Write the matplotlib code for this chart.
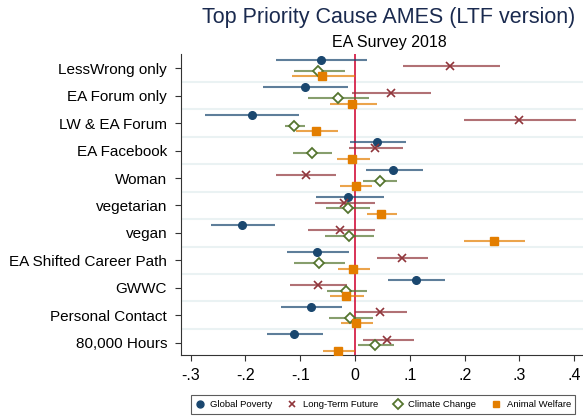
import numpy as np
import matplotlib
matplotlib.use("Agg")
import matplotlib.pyplot as plt
from matplotlib.lines import Line2D

plt.rcParams["font.family"] = ["Liberation Sans", "DejaVu Sans"]

categories = ["LessWrong only", "EA Forum only", "LW & EA Forum", "EA Facebook", "Woman",
              "vegetarian", "vegan", "EA Shifted Career Path", "GWWC", "Personal Contact",
              "80,000 Hours"]

# point estimate, lower CI, upper CI
gp = [-0.062, -0.092, -0.189, 0.040, 0.070, -0.012, -0.206, -0.070, 0.111, -0.081, -0.111]
gp_lo = [-0.145, -0.168, -0.274, -0.009, 0.020, -0.072, -0.263, -0.125, 0.060, -0.136, -0.161]
gp_hi = [0.022, -0.012, -0.102, 0.093, 0.124, 0.053, -0.146, -0.011, 0.165, -0.024, -0.059]

ltf = [0.174, 0.066, 0.299, 0.037, -0.090, -0.020, -0.027, 0.085, -0.068, 0.046, 0.059]
ltf_lo = [0.087, -0.005, 0.199, -0.011, -0.144, -0.074, -0.085, 0.040, -0.119, -0.001, 0.015]
ltf_hi = [0.265, 0.139, 0.403, 0.088, -0.034, 0.037, 0.036, 0.133, -0.015, 0.095, 0.108]

cc = [-0.067, -0.031, -0.111, -0.078, 0.045, -0.012, -0.011, -0.066, -0.017, -0.009, 0.036]
cc_lo = [-0.111, -0.085, -0.128, -0.113, 0.015, -0.053, -0.055, -0.111, -0.051, -0.048, 0.005]
cc_hi = [-0.018, 0.025, -0.091, -0.042, 0.077, 0.027, 0.034, -0.019, 0.021, 0.032, 0.071]

aw = [-0.060, -0.005, -0.072, -0.005, 0.002, 0.048, 0.253, -0.003, -0.016, 0.001, -0.031]
aw_lo = [-0.115, -0.046, -0.107, -0.033, -0.027, 0.022, 0.199, -0.031, -0.046, -0.026, -0.059]
aw_hi = [-0.001, 0.040, -0.032, 0.027, 0.031, 0.077, 0.310, 0.027, 0.017, 0.032, -0.001]

x_ticks = [-0.3, -0.2, -0.1, 0, 0.1, 0.2, 0.3, 0.4]
x_labels = ["-.3", "-.2", "-.1", "0", ".1", ".2", ".3", ".4"]

series = [
    ("Global Poverty", gp, gp_lo, gp_hi, "#1a476f", "o", -0.3, 5.5),
    ("Long-Term Future", ltf, ltf_lo, ltf_hi, "#90353b", "x", -0.1, 5.5),
    ("Climate Change", cc, cc_lo, cc_hi, "#55752f", "D", 0.1, 5.5),
    ("Animal Welfare", aw, aw_lo, aw_hi, "#e37e00", "s", 0.3, 5.2),
]


def marker_style(col, mk, ms):
    if mk == "D":
        return dict(marker=mk, ms=ms, mfc="white", mec=col, mew=1.3)
    if mk == "x":
        return dict(marker=mk, ms=ms, color=col, mew=1.2)
    return dict(marker=mk, ms=ms, color=col)


fig = plt.figure(figsize=(5.83, 4.16), dpi=100)
ax = fig.add_axes([181 / 583, 61 / 416, 402 / 583, 301 / 416])

ypos = np.arange(len(categories))

# group separators
for y in ypos[:-1] + 0.5:
    ax.axhline(y, color="#eaf2f3", lw=1.5, zorder=0)

ax.axvline(0, color="#d6224a", lw=1.3, zorder=1)

for name, val, lo, hi, col, mk, off, ms in series:
    y = ypos + off
    ax.hlines(y, lo, hi, color=col, alpha=0.7, lw=1.5, zorder=2)
    ax.plot(val, y, ls="none", zorder=3, **marker_style(col, mk, ms))

ax.set_xlim(-0.3177, 0.416)
ax.set_ylim(10.45, -0.52)
ax.set_yticks(ypos)
ax.set_yticklabels(categories, fontsize=11)
ax.set_xticks(x_ticks)
ax.set_xticklabels(x_labels, fontsize=11.5)
ax.tick_params(axis="both", direction="out", length=4, width=0.8, color="#333333")
ax.tick_params(axis="y", pad=6)
ax.tick_params(axis="x", pad=5)
for s in ["top", "right"]:
    ax.spines[s].set_visible(False)
for s in ["left", "bottom"]:
    ax.spines[s].set_color("#333333")
    ax.spines[s].set_linewidth(0.8)

fig.text(389 / 583, 1 - 18 / 416, "Top Priority Cause AMES (LTF version)", ha="center", va="center",
         fontsize=15.5, color="#1a2a4f")
fig.text(389 / 583, 1 - 42 / 416, "EA Survey 2018", ha="center", va="center", fontsize=11.5)

handles = [Line2D([], [], ls="none", **marker_style(s[4], s[5], 5)) for s in series]
leg = fig.legend(handles, [s[0] for s in series], loc="center", ncol=4,
                 bbox_to_anchor=(383 / 583, 1 - 404.5 / 416), fontsize=6.8, frameon=True,
                 fancybox=False, edgecolor="#333333", handletextpad=0.6, columnspacing=1.6,
                 borderpad=0.5, handlelength=1.0)
leg.get_frame().set_linewidth(0.8)

fig.savefig("out.png", dpi=100)
